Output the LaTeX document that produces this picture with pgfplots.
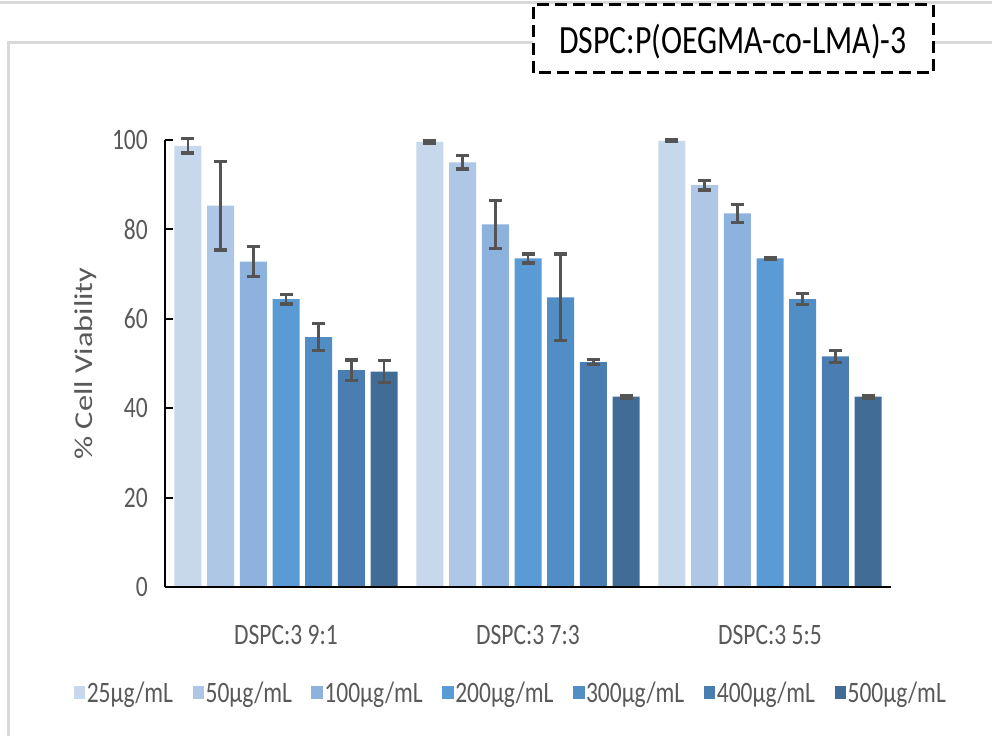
\documentclass[border=0pt]{standalone}
\usepackage{fontspec}
\setmainfont{Carlito}
\usepackage{graphicx}
\usepackage{pgfplots}
\pgfplotsset{compat=1.18}
\definecolor{c1}{HTML}{C7D8ED}
\definecolor{c2}{HTML}{AEC7E6}
\definecolor{c3}{HTML}{8DB2DD}
\definecolor{c4}{HTML}{5B9BD5}
\definecolor{c5}{HTML}{518EC5}
\definecolor{c6}{HTML}{4A7EB2}
\definecolor{c7}{HTML}{416C96}
\definecolor{txt}{HTML}{595959}
\definecolor{errc}{HTML}{545454}
\definecolor{framec}{HTML}{D9D9D9}
\newcommand{\vs}[1]{\scalebox{1}[1.26]{#1}}
\pgfplotsset{
  eb/.style={draw=none,
    error bars/.cd, y dir=both, y explicit,
    error bar style={draw=errc, line width=2.6bp},
    error mark options={draw=errc, rotate=90, mark size=6.5bp, line width=3.2bp}}
}
\begin{document}
\begin{tikzpicture}[x=1bp,y=1bp]
\useasboundingbox (0,0) rectangle (992,736);
\fill[white] (0,0) rectangle (992,736);
\draw[framec, line width=3bp] (0,733) -- (992,733);
\draw[framec, line width=3bp] (8,0) -- (8,693) -- (992,693);
\begin{axis}[
  at={(165bp,149bp)}, anchor=south west,
  width=726bp, height=447bp, scale only axis,
  xmin=-0.5, xmax=2.5, ymin=0, ymax=100,
  axis lines*=left,
  axis on top,
  axis line style={black, line width=2bp},
  tick align=inside,
  ytick={0,20,40,60,80,100},
  ytick style={black, line width=2bp},
  major tick length=8bp,
  xtick={0,1,2},
  xtick style={draw=none},
  xticklabels={\vs{DSPC:3 9:1},\vs{DSPC:3 7:3},\vs{DSPC:3 5:5}},
  yticklabel={\vs{\pgfmathprintnumber{\tick}}},
  /pgf/number format/assume math mode=true,
  tick label style={font=\fontsize{23.5bp}{28bp}\selectfont, text=txt},
  xticklabel style={anchor=center, yshift=-40bp},
  yticklabel style={anchor=east, inner sep=0pt, xshift=-17bp},
  ylabel={\scalebox{1.26}[1]{\% Cell Viability}},
  ylabel style={at={(axis description cs:-0.109,0.5)}, anchor=center, rotate=0, font=\fontsize{25.7bp}{30bp}\selectfont, text=txt},
  ybar=5.7bp, bar width=27bp,
  clip=false,
  legend columns=7,
  legend style={at={(axis description cs:0.476,-0.237)}, anchor=center, draw=none, fill=none,
    font=\fontsize{23.5bp}{28bp}\selectfont, text=txt,
    /tikz/every even column/.append style={column sep=18bp},
    nodes={inner sep=1.5bp}},
  legend image code/.code={\fill[#1] (0bp,-6bp) rectangle (11.5bp,6.5bp);},
]
\addplot[fill=c1, eb] coordinates {(0,98.7) +- (0,1.6) (1,99.6) +- (0,0.3) (2,99.8) +- (0,0.2)};
\addplot[fill=c2, eb] coordinates {(0,85.3) +- (0,9.9) (1,95.0) +- (0,1.5) (2,89.9) +- (0,1.1)};
\addplot[fill=c3, eb] coordinates {(0,72.8) +- (0,3.4) (1,81.1) +- (0,5.3) (2,83.6) +- (0,2.0)};
\addplot[fill=c4, eb] coordinates {(0,64.4) +- (0,1.1) (1,73.5) +- (0,1.0) (2,73.5) +- (0,0.2)};
\addplot[fill=c5, eb] coordinates {(0,55.9) +- (0,3.0) (1,64.8) +- (0,9.7) (2,64.4) +- (0,1.2)};
\addplot[fill=c6, eb] coordinates {(0,48.5) +- (0,2.3) (1,50.3) +- (0,0.6) (2,51.6) +- (0,1.3)};
\addplot[fill=c7, eb] coordinates {(0,48.2) +- (0,2.4) (1,42.6) +- (0,0.3) (2,42.6) +- (0,0.3)};
\legend{\vs{25µg/mL},\vs{50µg/mL},\vs{100µg/mL},\vs{200µg/mL},\vs{300µg/mL},\vs{400µg/mL},\vs{500µg/mL}}
\end{axis}
\draw[black, line width=3bp, dash pattern=on 12bp off 6bp, fill=white] (533,663) rectangle (933,731);
\node[text=black] at (733,694) {\fontsize{31.8bp}{36bp}\selectfont\vs{DSPC:P(OEGMA-co-LMA)-3}};
\end{tikzpicture}
\end{document}
